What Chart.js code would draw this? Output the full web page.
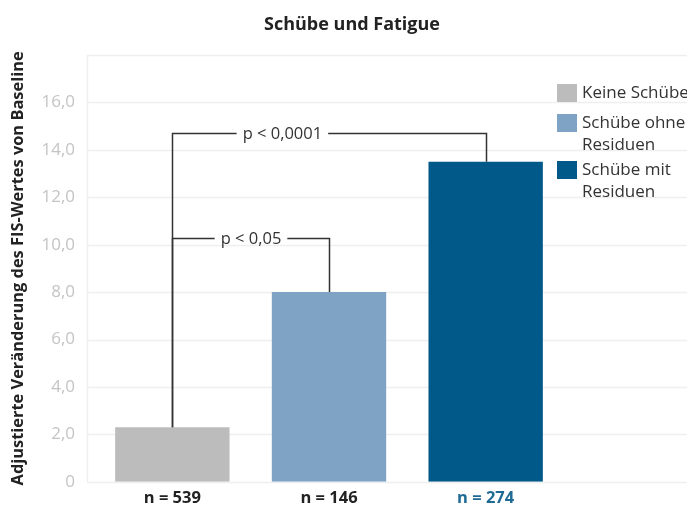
<!DOCTYPE html>
<html lang="de">
<head>
<meta charset="utf-8">
<title>Schübe und Fatigue</title>
<script src="https://cdn.jsdelivr.net/npm/chart.js@4/dist/chart.umd.min.js"></script>
<style>
  html, body { margin: 0; padding: 0; background: #ffffff; }
  body { width: 687px; height: 511px; overflow: hidden; font-family: "Open Sans", sans-serif; }
  #wrap { position: relative; width: 687px; height: 511px; }
  #chart { position: absolute; left: 0; top: 0; }
  #title { position: absolute; left: 0; top: 10px; width: 704px; text-align: center;
           font-weight: 700; font-size: 18px; line-height: 26px; color: #222; }
  .item { position: absolute; left: 557px; padding-left: 25px; font-size: 17px; color: #333;
          line-height: 22px; white-space: nowrap; }
  .box { position: absolute; left: 0; top: 3px; width: 20px; height: 18px; }
</style>
</head>
<body>
<div id="wrap">
  <canvas id="chart" width="687" height="511"></canvas>
  <div id="title">Schübe und Fatigue</div>
</div>
<script>
// Gruppen (x-Achse: Fallzahlen) und adjustierte FIS-Veränderung
const categories = ['n = 539', 'n = 146', 'n = 274'];
const groupNames = ['Keine Schübe', 'Schübe ohne\nResiduen', 'Schübe mit\nResiduen'];
const fisChange = [2.3, 8.0, 13.5];
const barColors = ['#bcbcbc', '#7ea3c5', '#01598a'];
const categoryLabelColors = ['#222222', '#222222', '#1f6a94'];
const yTickLabels = ['0', '2,0', '4,0', '6,0', '8,0', '10,0', '12,0', '14,0', '16,0', ''];

// Signifikanz-Klammern: Gruppenindizes, Höhe auf der y-Skala, Beschriftung
const bracketFrom = [0, 0];
const bracketTo = [1, 2];
const bracketLevel = [10.3, 14.7];
const bracketLabels = ['p < 0,05', 'p < 0,0001'];

const FONT = '"Open Sans", sans-serif';

// Legende rechts neben den Balken
const wrap = document.getElementById('wrap');
const legendTops = [81, 111, 158];
groupNames.forEach((name, i) => {
  const item = document.createElement('div');
  item.className = 'item';
  item.style.top = legendTops[i] + 'px';
  const box = document.createElement('span');
  box.className = 'box';
  box.style.background = barColors[i];
  item.appendChild(box);
  name.split('\n').forEach((line, j) => {
    if (j) item.appendChild(document.createElement('br'));
    item.appendChild(document.createTextNode(line));
  });
  wrap.appendChild(item);
});

// Hintergrundraster über die volle Breite und Rahmenlinie links
const gridPlugin = {
  id: 'fullGrid',
  beforeDatasetsDraw(chart) {
    const { ctx, scales: { y } } = chart;
    ctx.save();
    ctx.strokeStyle = '#efefef';
    ctx.lineWidth = 1.5;
    for (let v = 0; v <= 18; v += 2) {
      const py = Math.round(y.getPixelForValue(v)) + 0.5;
      ctx.beginPath();
      ctx.moveTo(87, py);
      ctx.lineTo(687, py);
      ctx.stroke();
    }
    ctx.beginPath();
    ctx.moveTo(87.5, y.getPixelForValue(18));
    ctx.lineTo(87.5, y.getPixelForValue(0));
    ctx.stroke();
    ctx.restore();
  }
};

// Klammern mit p-Werten
const bracketPlugin = {
  id: 'brackets',
  afterDatasetsDraw(chart) {
    const { ctx, scales: { x, y } } = chart;
    const labelPos = [0.5, 0.35];
    ctx.save();
    ctx.strokeStyle = '#333333';
    ctx.lineWidth = 1.5;
    ctx.font = '16.5px ' + FONT;
    ctx.fillStyle = '#333';
    ctx.textAlign = 'center';
    ctx.textBaseline = 'middle';
    bracketLabels.forEach((label, i) => {
      const x1 = Math.round(x.getPixelForValue(bracketFrom[i])) + 0.5;
      const x2 = Math.round(x.getPixelForValue(bracketTo[i])) + 0.5;
      const yl = Math.round(y.getPixelForValue(bracketLevel[i])) + 0.5;
      const y1 = y.getPixelForValue(fisChange[bracketFrom[i]]);
      const y2 = y.getPixelForValue(fisChange[bracketTo[i]]);
      const cx = x1 + (x2 - x1) * labelPos[i];
      const half = ctx.measureText(label).width / 2 + 6;
      ctx.beginPath();
      ctx.moveTo(x1, y1);
      ctx.lineTo(x1, yl);
      ctx.lineTo(cx - half, yl);
      ctx.moveTo(cx + half, yl);
      ctx.lineTo(x2, yl);
      ctx.lineTo(x2, y2);
      ctx.stroke();
      ctx.fillText(label, cx, yl + 1);
    });
    ctx.restore();
  }
};

new Chart(document.getElementById('chart'), {
  type: 'bar',
  data: {
    labels: categories,
    datasets: [{
      data: fisChange,
      backgroundColor: barColors,
      borderWidth: 0,
      categoryPercentage: 1,
      barPercentage: 0.73
    }]
  },
  options: {
    responsive: false,
    animation: false,
    events: [],
    layout: { padding: { left: 0, right: 123, top: 55, bottom: -3 } },
    plugins: { legend: { display: false }, tooltip: { enabled: false }, title: { display: false } },
    scales: {
      x: {
        afterFit: (s) => { s.height = 27; },
        grid: { display: false, drawTicks: false },
        border: { display: false },
        ticks: {
          padding: 7,
          font: { family: FONT, size: 16.5, weight: 'bold' },
          color: (c) => categoryLabelColors[c.index]
        }
      },
      y: {
        min: 0,
        max: 18,
        afterFit: (s) => { s.width = 94; },
        grid: { display: false, drawTicks: false },
        border: { display: false },
        ticks: {
          stepSize: 2,
          padding: 19,
          font: { family: FONT, size: 17 },
          color: '#c4c4c4',
          callback: (v, i) => yTickLabels[i]
        },
        title: {
          display: true,
          text: 'Adjustierte Veränderung des FIS-Wertes von Baseline',
          font: { family: FONT, size: 16.4, weight: 'bold' },
          color: '#222',
          padding: { top: 8, bottom: 0 }
        }
      }
    }
  },
  plugins: [gridPlugin, bracketPlugin]
});
</script>
</body>
</html>
